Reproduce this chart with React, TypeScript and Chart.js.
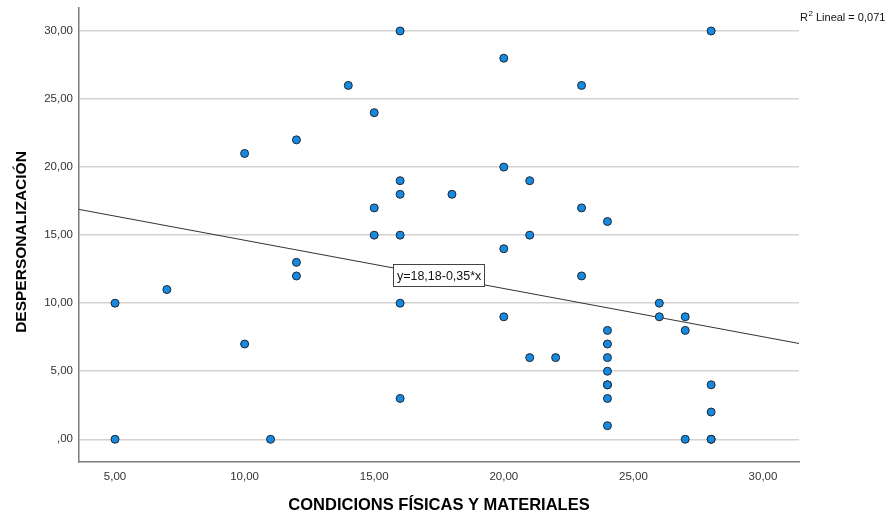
import React, { useEffect, useRef } from 'react';
import { Chart, registerables } from 'chart.js';

Chart.register(...registerables);

// ---- data ----
const X_VALUES = [5, 5, 7, 10, 10, 11, 12, 12, 12, 14, 15, 15, 15, 16, 16, 16, 16, 16, 16, 18, 20, 20, 20, 20, 21, 21, 21, 22, 23, 23, 23, 24, 24, 24, 24, 24, 24, 24, 24, 24, 26, 26, 27, 27, 27, 28, 28, 28, 28, 28];
const Y_VALUES = [10, 0, 11, 21, 7, 0, 22, 13, 12, 26, 24, 17, 15, 30, 19, 18, 15, 10, 3, 18, 28, 20, 14, 9, 19, 15, 6, 6, 26, 17, 12, 16, 8, 7, 6, 5, 4, 4, 3, 1, 10, 9, 9, 8, 0, 30, 4, 2, 0, 0];
const X_TICKS = [5, 10, 15, 20, 25, 30];
const Y_TICKS = [0, 5, 10, 15, 20, 25, 30];
const X_RANGE = [3.61, 31.39];
const Y_RANGE = [-1.67, 31.69];
const REG_INTERCEPT = 18.17;
const REG_SLOPE = -0.3546;
const EQUATION_LABEL = 'y=18,18-0,35*x';
const R2_PREFIX = 'R';
const R2_SUP = '2';
const R2_REST = ' Lineal = 0,071';
const X_TITLE = 'CONDICIONS FÍSICAS Y MATERIALES';
const Y_TITLE = 'DESPERSONALIZACIÓN';

const FONT = "'Liberation Sans', Arial, sans-serif";
const fmt = (v: number) => (v === 0 ? ',00' : v.toFixed(2).replace('.', ','));

export default function App() {
  const ref = useRef<HTMLCanvasElement | null>(null);

  useEffect(() => {
    document.body.style.margin = '0';
    const canvas = ref.current;
    if (!canvas) return;

    const points = X_VALUES.map((x, i) => ({ x, y: Y_VALUES[i] }));
    const fitLine = X_RANGE.map((x) => ({ x, y: REG_INTERCEPT + REG_SLOPE * x }));

    const labelsPlugin = {
      id: 'spssLabels',
      afterDatasetsDraw(chart: any) {
        const ctx = chart.ctx;
        const xs = chart.scales.x;
        const ys = chart.scales.y;
        ctx.save();
        // equation box
        const bx = xs.getPixelForValue(15.74);
        const by = ys.getPixelForValue(12.06);
        ctx.font = `12.5px ${FONT}`;
        const tw = ctx.measureText(EQUATION_LABEL).width;
        const bw = tw + 7;
        const bh = 22;
        ctx.fillStyle = '#ffffff';
        ctx.fillRect(Math.round(bx) + 0.5, Math.round(by - bh / 2) + 0.5, Math.round(bw), bh);
        ctx.strokeStyle = '#444';
        ctx.lineWidth = 1;
        ctx.strokeRect(Math.round(bx) + 0.5, Math.round(by - bh / 2) + 0.5, Math.round(bw), bh);
        ctx.fillStyle = '#111';
        ctx.textBaseline = 'middle';
        ctx.textAlign = 'left';
        ctx.fillText(EQUATION_LABEL, bx + 3.5, by + 1);

        // R2 label
        const rx = chart.chartArea.right + 1;
        const ry = 21;
        ctx.textBaseline = 'alphabetic';
        ctx.font = `11px ${FONT}`;
        ctx.fillStyle = '#111';
        ctx.fillText(R2_PREFIX, rx, ry);
        const w1 = ctx.measureText(R2_PREFIX).width;
        ctx.font = `8px ${FONT}`;
        ctx.fillText(R2_SUP, rx + w1 + 0.5, ry - 5);
        const w2 = ctx.measureText(R2_SUP).width;
        ctx.font = `11px ${FONT}`;
        ctx.fillText(R2_REST, rx + w1 + w2 + 0.5, ry);

        // y title
        ctx.translate(21.5, 242);
        ctx.rotate(-Math.PI / 2);
        ctx.font = `bold 15.5px ${FONT}`;
        ctx.textAlign = 'center';
        ctx.textBaseline = 'middle';
        ctx.fillStyle = '#000';
        ctx.fillText(Y_TITLE, 0, 0);
        ctx.restore();
      },
    };

    const chart = new Chart(canvas, {
      type: 'scatter',
      data: {
        datasets: [
          {
            label: 'points',
            data: points,
            pointRadius: 4,
            pointHoverRadius: 4,
            pointBackgroundColor: '#1689e0',
            pointBorderColor: '#1d2733',
            pointBorderWidth: 1,
            showLine: false,
          },
          {
            label: 'fit',
            data: fitLine,
            showLine: true,
            pointRadius: 0,
            borderColor: '#333',
            borderWidth: 1,
            fill: false,
          } as any,
        ],
      },
      options: {
        animation: false,
        responsive: false,
        devicePixelRatio: 1,
        layout: { padding: { top: 8, right: 88, left: 0, bottom: 0 } },
        plugins: { legend: { display: false }, tooltip: { enabled: false } },
        scales: {
          x: {
            type: 'linear',
            min: X_RANGE[0],
            max: X_RANGE[1],
            afterBuildTicks: (s: any) => {
              s.ticks = X_TICKS.map((value) => ({ value }));
            },
            afterFit: (s: any) => {
              s.height = 56;
              s.paddingLeft = 0;
              s.paddingRight = 0;
            },
            grid: { display: false, drawTicks: false },
            border: { display: true, color: '#7a7a7a', width: 1.5 },
            ticks: {
              padding: 8,
              color: '#333',
              font: { family: FONT, size: 11.5 },
              callback: (v: any) => fmt(Number(v)),
              maxRotation: 0,
            },
            title: {
              display: true,
              text: X_TITLE,
              color: '#000',
              font: { family: FONT, size: 16.5, weight: 'bold' },
              padding: { top: 0, bottom: 3 },
            },
          },
          y: {
            type: 'linear',
            min: Y_RANGE[0],
            max: Y_RANGE[1],
            afterBuildTicks: (s: any) => {
              s.ticks = Y_TICKS.map((value) => ({ value }));
            },
            afterFit: (s: any) => {
              s.width = 79;
              s.paddingTop = 0;
              s.paddingBottom = 0;
            },
            grid: { display: true, drawTicks: false, color: '#d2d2d2', lineWidth: 1.5 },
            border: { display: true, color: '#7a7a7a', width: 1.5 },
            ticks: {
              padding: 6,
              color: '#333',
              font: { family: FONT, size: 11.5 },
              callback: (v: any) => fmt(Number(v)),
            },
          },
        },
      },
      plugins: [labelsPlugin],
    });

    return () => chart.destroy();
  }, []);

  return <canvas ref={ref} width={887} height={518} style={{ display: 'block' }} />;
}
